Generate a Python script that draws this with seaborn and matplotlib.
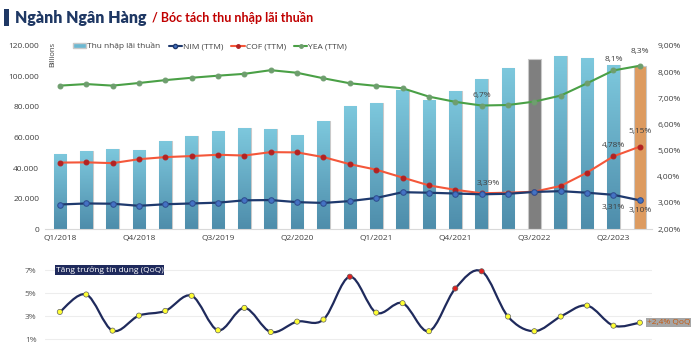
import numpy as np
import pandas as pd
import matplotlib
matplotlib.use("Agg")
import matplotlib.pyplot as plt
import seaborn as sns
from matplotlib.path import Path
from matplotlib.patches import PathPatch, Patch, Rectangle
from matplotlib.lines import Line2D
from matplotlib.colors import LinearSegmentedColormap

# Data
quarters = ["Q1/2018", "Q2/2018", "Q3/2018", "Q4/2018",
            "Q1/2019", "Q2/2019", "Q3/2019", "Q4/2019",
            "Q1/2020", "Q2/2020", "Q3/2020", "Q4/2020",
            "Q1/2021", "Q2/2021", "Q3/2021", "Q4/2021",
            "Q1/2022", "Q2/2022", "Q3/2022", "Q4/2022",
            "Q1/2023", "Q2/2023", "Q3/2023"]
nii = [49500, 51000, 52500, 51700, 58000, 60900, 64100, 65900, 65700, 61500, 70700, 80500,
       82300, 90800, 84400, 90300, 98000, 105600, 111100, 113400, 111900, 107500, 106700]
nim = [2.94, 2.98, 2.97, 2.89, 2.95, 2.98, 3.01, 3.10, 3.11, 3.03, 3.00, 3.07,
       3.19, 3.41, 3.39, 3.36, 3.33, 3.35, 3.42, 3.45, 3.39, 3.31, 3.10]
cof = [4.54, 4.55, 4.52, 4.67, 4.75, 4.79, 4.84, 4.81, 4.94, 4.93, 4.75, 4.48,
       4.27, 3.97, 3.67, 3.50, 3.37, 3.39, 3.43, 3.65, 4.16, 4.78, 5.15]
yea = [7.48, 7.54, 7.48, 7.58, 7.69, 7.78, 7.86, 7.93, 8.07, 7.97, 7.76, 7.57,
       7.47, 7.38, 7.06, 6.86, 6.72, 6.74, 6.87, 7.10, 7.57, 8.06, 8.24]
credit = [3.37, 4.88, 1.75, 3.05, 3.46, 4.77, 1.78, 3.72, 1.63, 2.53, 2.71, 6.42,
          3.31, 4.13, 1.70, 5.40, 6.89, 2.97, 1.70, 2.97, 3.92, 2.18, 2.44]
credit_red = [11, 15, 16]
tick_idx = [0, 3, 6, 9, 12, 15, 18, 21]

navy = "#1F3864"
txt = "#404040"
bar_colors = ["#6BB8D2"] * 23
bar_colors[18] = "#7F7F7F"
bar_colors[22] = "#F29A4B"

sns.set_style("white")
plt.rcParams["font.family"] = ["Open Sans", "DejaVu Sans"]

fig = plt.figure(figsize=(7, 3.58), dpi=100)
ax = fig.add_axes([0.064, 0.360, 0.867, 0.512])
x = np.arange(len(quarters))

df = pd.DataFrame({"q": quarters, "v": nii})
sns.barplot(data=df, x="q", y="v", hue="q", order=quarters, palette=bar_colors,
            legend=False, width=0.48, edgecolor="#C9C9C9", linewidth=0.8, ax=ax, zorder=2)

# gradient fill on the blue bars
cmap = LinearSegmentedColormap.from_list("bar", ["#4E8DAB", "#7DC8DD"])
grad = np.linspace(0, 1, 100).reshape(-1, 1)
for i, p in enumerate(ax.patches):
    if i in (18, 22):
        continue
    x0, y0 = p.get_x(), p.get_y()
    im = ax.imshow(grad, extent=[x0, x0 + p.get_width(), y0, y0 + p.get_height()],
                   origin="lower", aspect="auto", cmap=cmap, zorder=2.1)
    im.set_clip_path(p)

ax.set_xlim(-0.57, 22.45)
ax.set_ylim(0, 120000)
ax.set_yticks(np.arange(0, 120001, 20000))
ax.set_yticklabels([f"{int(v):,}".replace(",", ".") for v in np.arange(0, 120001, 20000)])
ax.set_xticks(tick_idx)
ax.set_xticklabels([quarters[i] for i in tick_idx])
ax.tick_params(axis="both", length=0, labelsize=6, colors=txt, pad=4)
ax.set_xlabel("")
ax.set_ylabel("")
for s in ["top", "right", "left"]:
    ax.spines[s].set_visible(False)
ax.spines["bottom"].set_color("#D9D9D9")
ax.spines["bottom"].set_linewidth(0.8)
fig.text(0.076, 0.848, "Billions", rotation=90, fontsize=5.5, color=txt, ha="center", va="center")

ax2 = ax.twinx()
sns.lineplot(x=x, y=yea, ax=ax2, color="#4AA046", linewidth=1.5, marker="o", markersize=3.5,
             markerfacecolor="#6E9E6E", markeredgecolor="#6E9E6E", zorder=3)
sns.lineplot(x=x, y=cof, ax=ax2, color="#F4573A", linewidth=1.5, marker="o", markersize=3.5,
             markerfacecolor="#B22222", markeredgecolor="#B22222", zorder=3)
sns.lineplot(x=x, y=nim, ax=ax2, color="#1F3A6E", linewidth=1.6, marker="o", markersize=4,
             markerfacecolor="#4472C4", markeredgecolor="#2F4F8F", zorder=3)
ax2.set_ylim(2, 9)
ax2.set_yticks(np.arange(2, 9.01, 1))
ax2.set_yticklabels([f"{v:.2f}%".replace(".", ",") for v in np.arange(2, 9.01, 1)])
ax2.tick_params(axis="y", length=0, labelsize=6, colors=txt, pad=4)
for s in ax2.spines.values():
    s.set_visible(False)
ax2.set_xlim(-0.57, 22.45)

lab = dict(fontsize=6, color=txt, ha="center", va="center")
ax2.annotate("8,3%", (22, yea[22]), xytext=(0, 10), textcoords="offset points", **lab)
ax2.annotate("8,1%", (21, yea[21]), xytext=(0, 8), textcoords="offset points", **lab)
ax2.annotate("6,7%", (16, yea[16]), xytext=(0, 7), textcoords="offset points", **lab)
ax2.annotate("5,15%", (22, cof[22]), xytext=(0, 11), textcoords="offset points", **lab)
ax2.annotate("4,78%", (21, cof[21]), xytext=(0, 8), textcoords="offset points", **lab)
ax2.annotate("3,31%", (21, nim[21]), xytext=(0, -9), textcoords="offset points", **lab)
ax2.annotate("3,10%", (22, nim[22]), xytext=(0, -7), textcoords="offset points", **lab)
ax2.annotate("3,39%", (17, cof[17]), xytext=(-14, 7), textcoords="offset points",
             arrowprops=dict(arrowstyle="-", color="#A6A6A6", lw=0.6), **lab)

handles = [Patch(facecolor="#6BB8D2", edgecolor="#C9C9C9"),
           Line2D([], [], color="#1F3A6E", marker="o", markersize=3, markerfacecolor="#4472C4"),
           Line2D([], [], color="#F4573A", marker="o", markersize=2.5, markerfacecolor="#B22222",
                  markeredgecolor="#B22222"),
           Line2D([], [], color="#4AA046", marker="o", markersize=2.5, markerfacecolor="#6E9E6E",
                  markeredgecolor="#6E9E6E")]
fig.legend(handles, ["Thu nhập lãi thuần", "NIM (TTM)", "COF (TTM)", "YEA (TTM)"],
           loc="center", bbox_to_anchor=(0.300, 0.871), ncol=4, frameon=False, fontsize=6,
           handlelength=1.6, handletextpad=0.1, columnspacing=1.0, labelcolor=txt,
           handleheight=0.5)

# title
fig.patches.append(Rectangle((0.006, 0.927), 0.007, 0.048, transform=fig.transFigure,
                             facecolor=navy, edgecolor="none"))
fig.text(0.021, 0.951, "Ngành Ngân Hàng", fontsize=11.5, fontweight="heavy", color=navy,
         va="center", ha="left", family=["Lato", "Open Sans", "DejaVu Sans"])
fig.text(0.217, 0.951, "/ Bóc tách thu nhập lãi thuần", fontsize=9, fontweight="bold",
         color="#C00000", va="center", ha="left", family=["Lato", "Open Sans", "DejaVu Sans"])

# credit growth panel
bx = fig.add_axes([0.064, 0.020, 0.867, 0.258])
pts = np.column_stack([x, credit]).astype(float)
verts = [tuple(pts[0])]
codes = [Path.MOVETO]
n = len(pts)
for i in range(n - 1):
    p0 = pts[max(i - 1, 0)]
    p1 = pts[i]
    p2 = pts[i + 1]
    p3 = pts[min(i + 2, n - 1)]
    c1 = p1 + (p2 - p0) / 6
    c2 = p2 - (p3 - p1) / 6
    verts += [tuple(c1), tuple(c2), tuple(p2)]
    codes += [Path.CURVE4] * 3
bx.add_patch(PathPatch(Path(verts, codes), facecolor="none", edgecolor="#1F2A5C",
                       linewidth=1.6, zorder=3))
cdf = pd.DataFrame({"x": x, "y": credit,
                    "c": ["red" if i in credit_red else "yel" for i in range(n)]})
sns.scatterplot(data=cdf, x="x", y="y", hue="c", palette={"red": "#E02020", "yel": "#FFFF33"},
                s=14, edgecolor="#606060", linewidth=0.5, legend=False, ax=bx, zorder=4)
bx.set_xlim(-0.57, 22.45)
bx.set_ylim(0, 8)
bx.set_yticks([1, 3, 5, 7])
bx.set_yticklabels(["1%", "3%", "5%", "7%"])
bx.set_xticks([])
bx.set_xlabel("")
bx.set_ylabel("")
bx.grid(axis="y", color="#EDEDED", linewidth=0.8)
bx.tick_params(axis="y", length=0, labelsize=6, colors="#595959", pad=6)
for s in bx.spines.values():
    s.set_visible(False)
bx.text(-0.15, 7, "Tăng trưởng tín dụng (QoQ)", fontsize=6, color="white", va="center",
        ha="left", bbox=dict(boxstyle="square,pad=0.1", facecolor="#1F2A5C", edgecolor="none"))
bx.annotate("+2,4% QoQ", (22, credit[22]), xytext=(5, 0), textcoords="offset points",
            fontsize=6, color="#C55A11", va="center", ha="left", annotation_clip=False,
            bbox=dict(boxstyle="square,pad=0.12", facecolor="#A6A6A6", edgecolor="none"))

fig.savefig("out.png", dpi=100)
